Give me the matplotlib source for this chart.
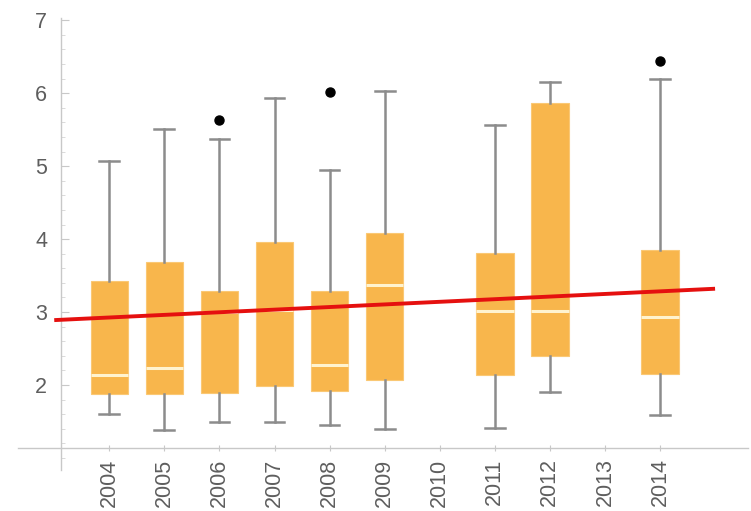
import matplotlib
matplotlib.use("Agg")
import matplotlib.pyplot as plt
from matplotlib.ticker import MultipleLocator

# Yearly box summaries
years = [2004, 2005, 2006, 2007, 2008, 2009, 2011, 2012, 2014]
whisker_hi = [5.07, 5.51, 5.37, 5.93, 4.95, 6.03, 5.57, 6.15, 6.19]
q3 = [3.42, 3.68, 3.29, 3.96, 3.29, 4.09, 3.81, 5.86, 3.85]
median = [2.14, 2.23, 3.00, 3.03, 2.27, 3.37, 3.02, 3.02, 2.93]
q1 = [1.88, 1.88, 1.89, 1.99, 1.92, 2.07, 2.14, 2.40, 2.15]
whisker_lo = [1.60, 1.38, 1.49, 1.49, 1.45, 1.40, 1.41, 1.90, 1.59]
outliers = {2006: [5.63], 2008: [6.01], 2014: [6.44]}

# Axis labels
tick_years = list(range(2004, 2015))
y_ticks = [2, 3, 4, 5, 6, 7]

# Linear trend endpoints
trend_x = [2003.0, 2015.0]
trend_y = [2.89, 3.32]

plt.rcParams["font.family"] = ["Liberation Sans", "DejaVu Sans"]

fig = plt.figure(figsize=(7.51, 5.11), dpi=100)
ax = fig.add_axes([18 / 751, 41 / 511, 730 / 751, 452 / 511])

stats = []
for i, yr in enumerate(years):
    stats.append(dict(med=median[i], q1=q1[i], q3=q3[i],
                      whislo=whisker_lo[i], whishi=whisker_hi[i],
                      fliers=outliers.get(yr, [])))

box_color = "#F8B64C"
ax.bxp(stats, positions=years, widths=0.68, patch_artist=True,
       showfliers=True,
       boxprops=dict(facecolor=box_color, edgecolor="#FAC874", linewidth=0.8),
       medianprops=dict(color="#FFF3CF", linewidth=2.2),
       whiskerprops=dict(color="#8C8C8C", linewidth=1.8),
       capprops=dict(color="#8C8C8C", linewidth=1.8),
       capwidths=0.36,
       flierprops=dict(marker="o", markerfacecolor="black",
                       markeredgecolor="black", markersize=6.5),
       zorder=2)

ax.plot(trend_x, trend_y, color="#E5100F", linewidth=2.8, zorder=4,
        solid_capstyle="butt")

ax.set_xlim(2002.342, 2015.598)
ax.set_ylim(0.836, 7.03)

# Axes crossing inside the data region
for side in ("top", "right"):
    ax.spines[side].set_visible(False)
ax.spines["left"].set_position(("data", 2003.123))
ax.spines["bottom"].set_position(("data", 1.137))
for side in ("left", "bottom"):
    ax.spines[side].set_color("#C8C8C8")
    ax.spines[side].set_linewidth(1.0)

ax.set_xticks(tick_years)
ax.set_xticklabels([str(y) for y in tick_years], rotation=90)
ax.set_yticks(y_ticks)
ax.set_yticklabels([str(v) for v in y_ticks])
ax.yaxis.set_minor_locator(MultipleLocator(0.2))

ax.tick_params(axis="x", direction="inout", length=5, width=0.8,
               color="#C8C8C8", labelcolor="#5E5E5E", labelsize=15.5, pad=5)
ax.tick_params(axis="y", which="major", direction="in", length=6, width=0.8,
               color="#C8C8C8", labelcolor="#5E5E5E", labelsize=15.5, pad=10)
ax.tick_params(axis="y", which="minor", direction="in", length=3, width=0.6,
               color="#D5D5D5")

fig.savefig("out.png", dpi=100)
